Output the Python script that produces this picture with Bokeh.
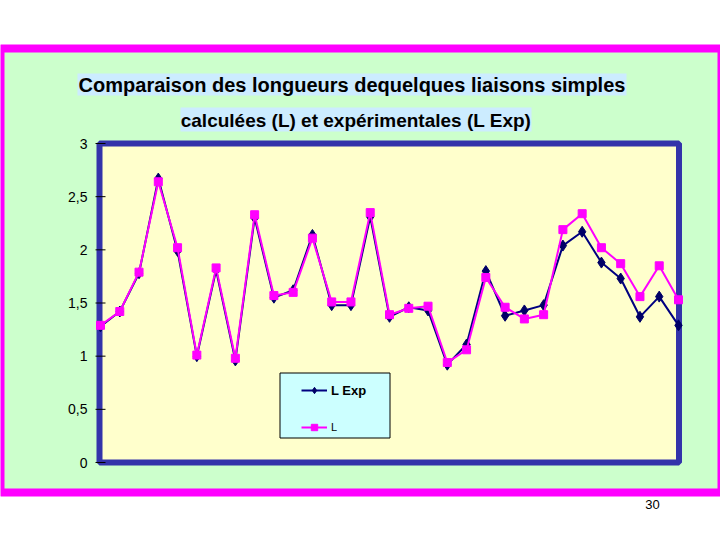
from bokeh.plotting import figure
from bokeh.models import Range1d, BoxAnnotation, Label, Legend, LegendItem
from bokeh.core.properties import value
from bokeh.embed import file_html
from bokeh.resources import INLINE

# ---- data ----
bond_index = list(range(31))
l_exp = [1.28, 1.42, 1.78, 2.67, 1.99, 1.00, 1.81, 0.96, 2.30, 1.55, 1.62, 2.14, 1.48, 1.48, 2.31, 1.37,
         1.46, 1.43, 0.92, 1.11, 1.80, 1.38, 1.43, 1.48, 2.04, 2.17, 1.88, 1.73, 1.37, 1.56, 1.29]
l_calc = [1.29, 1.42, 1.79, 2.64, 2.02, 1.01, 1.83, 0.98, 2.33, 1.57, 1.60, 2.11, 1.51, 1.51, 2.35, 1.39,
          1.45, 1.47, 0.94, 1.06, 1.74, 1.46, 1.35, 1.39, 2.19, 2.34, 2.02, 1.87, 1.56, 1.85, 1.53]
y_ticks = [0, 0.5, 1, 1.5, 2, 2.5, 3]
y_tick_labels = ["0", "0,5", "1", "1,5", "2", "2,5", "3"]
series_names = ["L Exp", "L"]
title_line1 = "Comparaison des longueurs dequelques liaisons simples"
title_line2 = "calculées (L) et expérimentales (L Exp)"
page_number = "30"

# ---- layout (pixels) ----
W, H = 720, 530
X0PX, X1PX = 100, 678      # pixel of first / last bond
Y0PX, Y3PX = 462, 143      # pixel of value 0 / value 3
xstep = (X1PX - X0PX) / (len(bond_index) - 1)
yk = 3.0 / (Y0PX - Y3PX)


def dx(px):
    return (px - X0PX) / xstep


def sy(py):
    return H - py


p = figure(width=W, height=H, output_backend="svg", toolbar_location=None,
           x_range=Range1d(dx(0), dx(W)),
           y_range=Range1d((Y0PX - H) * yk, Y0PX * yk),
           x_axis_location=None, y_axis_location=None,
           min_border=0, min_border_left=0, min_border_right=0, min_border_top=0, min_border_bottom=0,
           border_fill_color="white", background_fill_color="white", outline_line_color=None)
p.grid.grid_line_color = None


def box(l, r, t, b, fill, line=None, lw=1, level="underlay"):
    return BoxAnnotation(left=l, right=r, top=sy(t), bottom=sy(b),
                         left_units="screen", right_units="screen",
                         top_units="screen", bottom_units="screen",
                         fill_color=fill, fill_alpha=1.0,
                         line_color=line, line_alpha=1.0, line_width=lw, level=level)


# outer magenta frame with green fill
p.add_layout(box(0, 721, 48, 492, "#CCFFCC", "#FF00FF", 8))
# plot area: yellow with thick blue border
p.add_layout(box(99, 678.5, 143, 462, "#FFFFCC", "#3333AA", 6))
# title backgrounds
p.add_layout(box(77, 626, 73, 95, "#CCECFF"))
p.add_layout(box(180, 531, 107, 131, "#CCECFF"))

p.add_layout(Label(x=351.5, y=sy(84.5), x_units="screen", y_units="screen", text=title_line1,
                   text_font="Liberation Sans", text_font_style="bold", text_font_size="20px",
                   text_align="center", text_baseline="middle", text_color="black"))
p.add_layout(Label(x=355.5, y=sy(119.5), x_units="screen", y_units="screen", text=title_line2,
                   text_font="Liberation Sans", text_font_style="bold", text_font_size="19px",
                   text_align="center", text_baseline="middle", text_color="black"))

# y axis ticks and labels, placed through the y scale
n = len(y_ticks)
p.segment(x0=[dx(95)] * n, x1=[dx(105)] * n, y0=y_ticks, y1=y_ticks, line_color="black", line_width=1)
p.text(x=[dx(87)] * n, y=y_ticks, text=y_tick_labels, text_align="right", text_baseline="middle",
       text_font=value("Liberation Sans"), text_font_size="14px", text_color="black")

# series
r1 = p.line(bond_index, l_exp, line_color="#000080", line_width=2)
s1 = p.scatter(bond_index, l_exp, marker="diamond", size=11, fill_color="#000066", line_color="#000066")
r2 = p.line(bond_index, l_calc, line_color="#FF00FF", line_width=2)
s2 = p.scatter(bond_index, l_calc, marker="square", size=8, fill_color="#FF00FF", line_color="#FF00FF")

# legend box + entries
p.add_layout(box(279.5, 389.5, 372.5, 437.5, "#CCFFFF", "black", 1, level="annotation"))
common = dict(border_line_color=None, background_fill_alpha=0, padding=0, margin=0,
              glyph_width=26, glyph_height=16, label_standoff=4, label_height=16,
              label_text_font="Liberation Sans", label_text_color="black")
leg1 = Legend(items=[LegendItem(label=series_names[0], renderers=[r1, s1])],
              location=(301, sy(398)), label_text_font_style="bold",
              label_text_font_size="13px", **common)
leg2 = Legend(items=[LegendItem(label=series_names[1], renderers=[r2, s2])],
              location=(301, sy(435)), label_text_font_style="normal",
              label_text_font_size="11px", **common)
p.add_layout(leg1)
p.add_layout(leg2)

p.add_layout(Label(x=652, y=sy(504), x_units="screen", y_units="screen", text=page_number,
                   text_font="Liberation Sans", text_font_size="13px",
                   text_align="center", text_baseline="middle", text_color="black"))

open("out.html", "w").write(file_html(p, INLINE))
